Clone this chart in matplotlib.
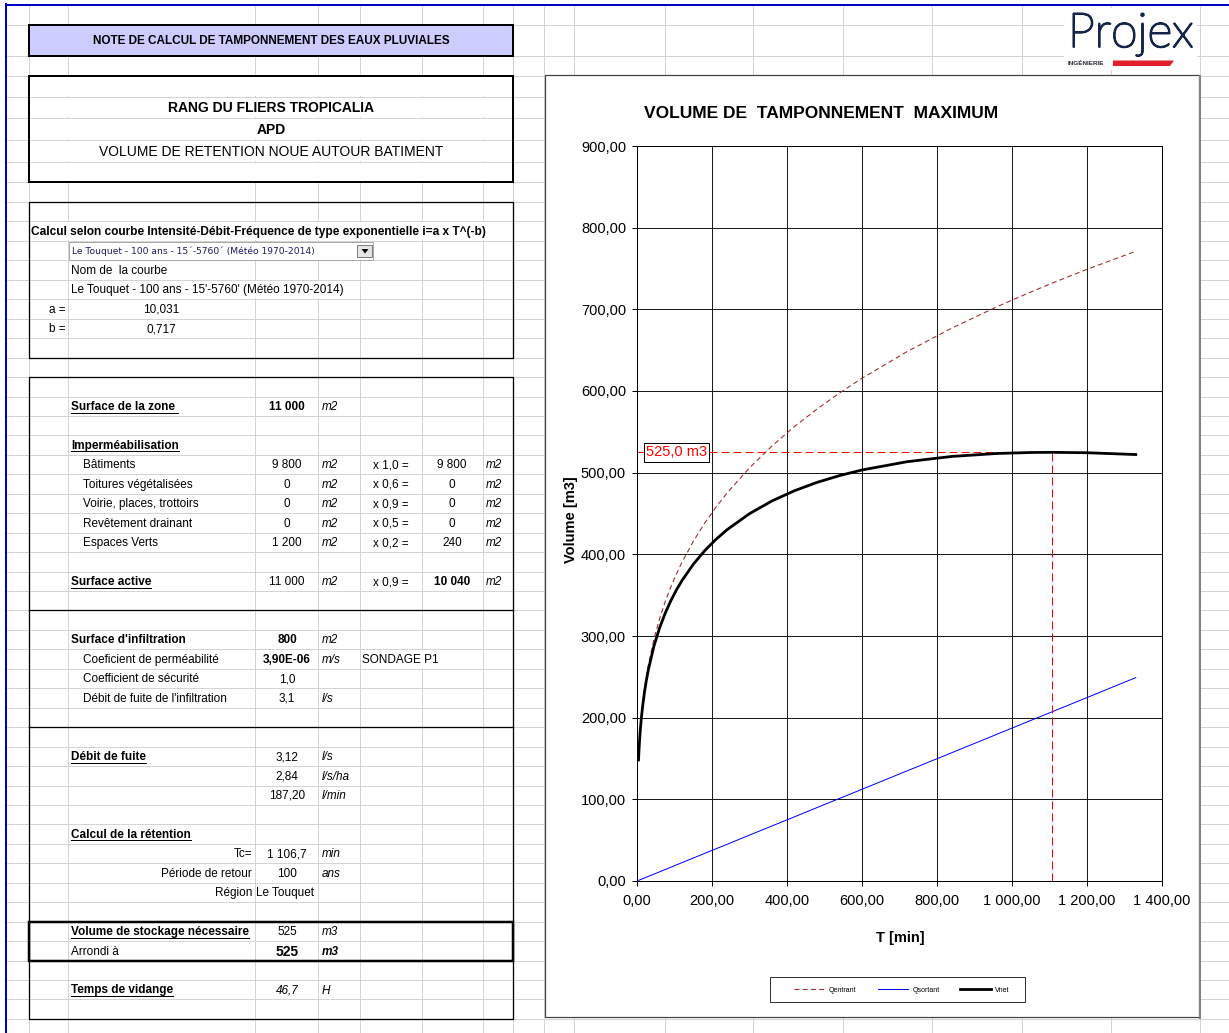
import matplotlib
matplotlib.use('Agg')
from matplotlib import pyplot as plt
from matplotlib import patheffects
from matplotlib.patches import Rectangle, Polygon
from matplotlib.ticker import FuncFormatter, MultipleLocator

plt.rcParams['font.family'] = ['Liberation Sans', 'DejaVu Sans']

# Durée de pluie T (min) et volumes cumulés (m3)
duree = [4, 6, 8, 10, 12, 15, 20, 25, 30, 45, 60, 75, 90, 105, 120, 150, 180,
         210, 240, 300, 360, 420, 480, 540, 600, 720, 840, 960, 1050, 1107,
         1200, 1330]
q_entrant = [149.1, 167.2, 181.4, 193.2, 203.5, 216.7, 235.1, 250.4, 263.7,
             295.8, 320.8, 341.8, 359.9, 375.9, 390.4, 415.8, 437.9, 457.4,
             475.0, 506.0, 532.7, 556.5, 577.9, 597.5, 615.6, 648.2, 677.1,
             703.2, 721.2, 732.1, 749.0, 771.1]
q_sortant = [0.7, 1.1, 1.5, 1.9, 2.2, 2.8, 3.7, 4.7, 5.6, 8.4, 11.2, 14.0,
             16.8, 19.7, 22.5, 28.1, 33.7, 39.3, 44.9, 56.2, 67.4, 78.6, 89.9,
             101.1, 112.3, 134.8, 157.2, 179.7, 196.6, 207.2, 224.6, 249.0]
v_net = [148.3, 166.1, 179.9, 191.4, 201.2, 213.9, 231.4, 245.8, 258.1, 287.4,
         309.6, 327.7, 343.0, 356.3, 367.9, 387.8, 404.2, 418.1, 430.1, 449.8,
         465.4, 477.9, 488.1, 496.4, 503.3, 513.4, 519.9, 523.5, 524.7, 524.9,
         524.4, 522.2]

tc = 1106.7     # durée critique (min)
v_max = 525.0   # volume de tamponnement maximum (m3)

W, H = 1229, 1033
PX = 0.72  # un pixel en points à 100 dpi

fig = plt.figure(figsize=(W / 100, H / 100), dpi=100)
bg = fig.add_axes([0, 0, 1, 1])
bg.set_xlim(0, W)
bg.set_ylim(H, 0)
bg.axis('off')


def rt(k):
    return 202 + 19.45 * k


# quadrillage de la feuille
cols = [29, 68, 255, 318, 360, 422, 483, 513, 544, 574, 665, 753, 843, 932,
        1022, 1111, 1200]
rows = [25, 56, 76, 97, 118, 140, 162, 182] + [rt(k) for k in range(43)]
bg.vlines(cols, 5, H, color='#d4d4d4', lw=PX, zorder=0)
bg.hlines(rows, 6, W, color='#d4d4d4', lw=PX, zorder=0)
bg.plot([6, 6], [4, H], color='#0000cc', lw=2 * PX, zorder=6)
bg.plot([6, W], [5, 5], color='#0000cc', lw=2 * PX, zorder=6)


def blank(x0, x1, y0, y1):
    bg.add_patch(Rectangle((x0, y0), x1 - x0, y1 - y0, fc='white', ec='none', zorder=1))


def blank_row(x0, x1, k):
    blank(x0, x1, rt(k) + 0.8, rt(k + 1) - 0.8)


def box(x0, y0, x1, y1, lw=1.3, fc='none'):
    bg.add_patch(Rectangle((x0, y0), x1 - x0, y1 - y0, fc=fc, ec='black',
                           lw=lw * PX, zorder=3))


underlined = []


def cell(k, x, s, ha='left', style='', size=8.5):
    t = bg.text(x, rt(k) + 10.5, s, ha=ha, va='center', fontsize=size,
                fontweight='bold' if 'b' in style else 'normal',
                fontstyle='italic' if 'i' in style else 'normal', zorder=4)
    if 'u' in style:
        underlined.append((t, rt(k) + 16))
    return t


# en-têtes
box(29, 25, 513, 56, lw=2, fc='#ccccff')
bg.text(271, 41, 'NOTE DE CALCUL DE TAMPONNEMENT DES EAUX PLUVIALES',
        ha='center', va='center', fontsize=8.5, fontweight='bold', zorder=4)

for a, b in zip([76, 97, 118, 140, 162], [97, 118, 140, 162, 182]):
    blank(30, 512, a + 0.8, b - 0.8)
box(29, 76, 513, 182, lw=2)
bg.text(271, 107.5, 'RANG DU FLIERS TROPICALIA', ha='center', va='center',
        fontsize=10, fontweight='bold', zorder=4)
bg.text(271, 129.5, 'APD', ha='center', va='center', fontsize=10,
        fontweight='bold', zorder=4)
bg.text(271, 151.5, 'VOLUME DE RETENTION NOUE AUTOUR BATIMENT', ha='center',
        va='center', fontsize=10, zorder=4)

# courbe IDF
box(29, rt(0), 513, rt(8))
blank_row(30, 490, 1)
cell(1, 31, 'Calcul selon courbe Intensité-Débit-Fréquence de type '
            'exponentielle i=a x T^(-b)', style='b', size=8.6)
bg.add_patch(Rectangle((69, 241.5), 304, 18, fc='white', ec='#a8a8a8',
                       lw=PX, zorder=3))
bg.text(72, 251, 'Le Touquet - 100 ans - 15´-5760´ (Météo 1970-2014)',
        fontsize=6.6, family='DejaVu Sans', color='#1a1a5e', va='center', zorder=4)
bg.add_patch(Rectangle((357, 245), 15, 12, fc='#e4e4e4', ec='#808080',
                       lw=PX, zorder=4))
bg.add_patch(Polygon([(361.5, 249), (368.5, 249), (365, 253.5)], closed=True,
                     fc='black', ec='none', zorder=5))
cell(3, 71, 'Nom de  la courbe')
blank_row(69, 355, 4)
cell(4, 71, "Le Touquet - 100 ans - 15'-5760' (Météo 1970-2014)")
cell(5, 66, 'a =', ha='right')
cell(5, 161.5, '10,031', ha='center')
cell(6, 66, 'b =', ha='right')
cell(6, 161.5, '0,717', ha='center')

# surfaces
C_VAL, X_UNIT, C_COEF, C_RES, X_UNIT2 = 287, 322, 391, 452, 486
box(29, rt(9), 513, rt(42))
bg.plot([29, 513], [rt(21)] * 2, color='black', lw=1.3 * PX, zorder=3)
bg.plot([29, 513], [rt(27)] * 2, color='black', lw=1.3 * PX, zorder=3)
box(29, rt(37), 513, rt(39), lw=2.5)

cell(10, 71, 'Surface de la zone ', style='bu')
cell(10, C_VAL, '11 000', 'center', 'b')
cell(10, X_UNIT, 'm2', style='i')
cell(12, 71, 'Imperméabilisation', style='bu')

surfaces = [('Bâtiments', '9 800', 'x 1,0 =', '9 800'),
            ('Toitures végétalisées', '0', 'x 0,6 =', '0'),
            ('Voirie, places, trottoirs', '0', 'x 0,9 =', '0'),
            ('Revêtement drainant', '0', 'x 0,5 =', '0'),
            ('Espaces Verts', '1 200', 'x 0,2 =', '240')]
for i, (nom, surf, coef, res) in enumerate(surfaces):
    k = 13 + i
    cell(k, 83, nom)
    cell(k, C_VAL, surf, 'center')
    cell(k, X_UNIT, 'm2', style='i')
    cell(k, C_COEF, coef, 'center')
    cell(k, C_RES, res, 'center')
    cell(k, X_UNIT2, 'm2', style='i')

cell(19, 71, 'Surface active', style='bu')
cell(19, C_VAL, '11 000', 'center')
cell(19, X_UNIT, 'm2', style='i')
cell(19, C_COEF, 'x 0,9 =', 'center')
cell(19, C_RES, '10 040', 'center', 'b')
cell(19, X_UNIT2, 'm2', style='i')

# infiltration
cell(22, 71, "Surface d'infiltration", style='b')
cell(22, C_VAL, '800', 'center', 'b')
cell(22, X_UNIT, 'm2', style='i')
cell(23, 83, 'Coeficient de perméabilité')
cell(23, C_VAL, '3,90E-06', 'center', 'b')
cell(23, X_UNIT, 'm/s', style='i')
blank_row(361, 445, 23)
cell(23, 362, 'SONDAGE P1')
cell(24, 83, 'Coefficient de sécurité')
cell(24, C_VAL, '1,0', 'center')
cell(25, 83, "Débit de fuite de l'infiltration")
cell(25, C_VAL, '3,1', 'center')
cell(25, X_UNIT, 'l/s', style='i')

# débit de fuite et rétention
cell(28, 71, 'Débit de fuite', style='bu')
cell(28, C_VAL, '3,12', 'center')
cell(28, X_UNIT, 'l/s', style='i')
cell(29, C_VAL, '2,84', 'center')
cell(29, X_UNIT, 'l/s/ha', style='i')
cell(30, C_VAL, '187,20', 'center')
cell(30, X_UNIT, 'l/min', style='i')

cell(32, 71, 'Calcul de la rétention', style='bu')
cell(33, 252, 'Tc=', 'right')
cell(33, C_VAL, '1 106,7', 'center')
cell(33, X_UNIT, 'min', style='i')
cell(34, 252, 'Période de retour', 'right')
cell(34, C_VAL, '100', 'center')
cell(34, X_UNIT, 'ans', style='i')
cell(35, 252, 'Région', 'right')
cell(35, 256, 'Le Touquet')

cell(37, 71, 'Volume de stockage nécessaire', style='bu')
cell(37, C_VAL, '525', 'center')
cell(37, X_UNIT, 'm3', style='i')
cell(38, 71, 'Arrondi à')
cell(38, C_VAL, '525', 'center', 'b', size=10)
cell(38, X_UNIT, 'm3', style='bi')
cell(40, 71, 'Temps de vidange', style='bu')
cell(40, C_VAL, '46,7', 'center', 'i')
cell(40, X_UNIT, 'H', style='i')

# logo
bg.add_patch(Rectangle((1064, 8), 133, 62, fc='white', ec='none', zorder=1))
bg.text(1130.5, 47, 'Projex', fontsize=34.5, family=['Lato', 'DejaVu Sans'],
        fontweight='light', color='#15244a', ha='center', va='baseline', zorder=4,
        path_effects=[patheffects.withStroke(linewidth=1.4, foreground='#15244a')])
bg.text(1068, 63.5, 'INGÉNIERIE', fontsize=4.6, fontweight='bold',
        color='#2a2a3a', va='center', zorder=4)
bg.add_patch(Polygon([(1113, 60.5), (1174, 60.5), (1170, 66), (1113, 66)],
                     closed=True, fc='#e31e2d', ec='none', zorder=4))

# cadre du graphique
bg.add_patch(Rectangle((545, 75), 654, 942, fc='white', ec='#404040',
                       lw=1.2 * PX, zorder=2))
bg.plot([1199.5, 1199.5], [76, 1018], color='#808080', lw=2 * PX, zorder=2)
bg.text(821, 113, 'VOLUME DE  TAMPONNEMENT  MAXIMUM', ha='center', va='center',
        fontsize=12.5, fontweight='bold', zorder=4)
bg.add_patch(Rectangle((770, 977), 255, 25, fc='white', ec='#333333',
                       lw=PX, zorder=2))

x0, x1, y0, y1 = 637, 1162, 146, 881
ax = fig.add_axes([x0 / W, 1 - y1 / H, (x1 - x0) / W, (y1 - y0) / H])
ax.set_zorder(3)

ax.plot(duree, q_entrant, color='#9e3030', lw=1.1 * PX, ls=(0, (4.5, 3)),
        label='Qentrant')
ax.plot(duree, q_sortant, color='#0000ff', lw=PX, label='Qsortant')
ax.hlines(v_max, 0, tc, colors='#ff0000', linestyles=(0, (8, 4)), lw=PX)
ax.vlines(tc, 0, v_max, colors='#ff0000', linestyles=(0, (8, 4)), lw=PX)
ax.plot(duree, v_net, color='black', lw=2.0, label='Vnet')
ax.text(24, v_max, f'{v_max:.1f} m3'.replace('.', ','), color='#ff0000',
        fontsize=10.5, ha='left', va='center', zorder=5,
        bbox=dict(boxstyle='square,pad=0.16', fc='white', ec='black', lw=PX))

ax.set_xlim(0, 1400)
ax.set_ylim(0, 900)
ax.xaxis.set_major_locator(MultipleLocator(200))
ax.yaxis.set_major_locator(MultipleLocator(100))


def fr(v, pos):
    return f'{v:,.2f}'.replace(',', ' ').replace('.', ',')


ax.xaxis.set_major_formatter(FuncFormatter(fr))
ax.yaxis.set_major_formatter(FuncFormatter(fr))
ax.grid(True, color='#1a1a1a', lw=PX)
ax.set_axisbelow(True)
for sp in ax.spines.values():
    sp.set_color('black')
    sp.set_linewidth(PX)
ax.tick_params(direction='out', length=3.6, width=PX, labelsize=10.5)
ax.tick_params(axis='x', pad=5.8)
ax.tick_params(axis='y', pad=4.3)
ax.set_xlabel('T [min]', fontsize=10.5, fontweight='bold')
ax.set_ylabel('Volume [m3]', fontsize=10.5, fontweight='bold')
ax.xaxis.set_label_coords((900 - x0) / (x1 - x0), (y1 - 931) / (y1 - y0))
ax.yaxis.set_label_coords((578 - x0) / (x1 - x0), (y1 - 520) / (y1 - y0))

ax.legend(loc='center', bbox_to_anchor=(902 / W, 1 - 990 / H),
          bbox_transform=fig.transFigure, ncol=3, fontsize=5, frameon=False,
          handlelength=4.4, handletextpad=0.6, columnspacing=3.0)

# soulignements
fig.canvas.draw()
renderer = fig.canvas.get_renderer()
for t, yl in underlined:
    bb = t.get_window_extent(renderer)
    bg.plot([bb.x0, bb.x1], [yl, yl], color='black', lw=PX, zorder=4)

fig.savefig('out.png', dpi=100)
